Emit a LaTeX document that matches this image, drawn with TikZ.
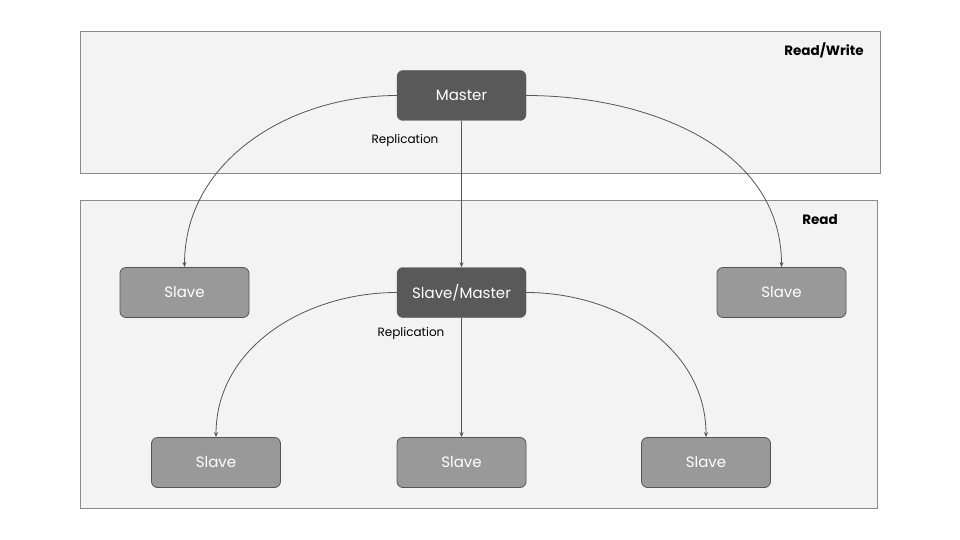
\documentclass[tikz,border=0pt]{standalone}
\usepackage{fontspec}
\setmainfont{Poppins}
\usetikzlibrary{arrows.meta}
\definecolor{panelfill}{HTML}{F3F3F3}
\definecolor{panelline}{HTML}{8A8A8A}
\definecolor{darkfill}{HTML}{595959}
\definecolor{lightfill}{HTML}{999999}
\definecolor{edgecol}{HTML}{555555}
\tikzset{
  panel/.style={draw=panelline, fill=panelfill, line width=0.8pt},
  darkbox/.style={draw=darkfill, fill=darkfill, rounded corners=6pt, minimum width=129pt, minimum height=50pt, text=white, font=\fontsize{15}{18}\selectfont, inner sep=0pt},
  lightbox/.style={draw=edgecol, fill=lightfill, rounded corners=6pt, minimum width=129pt, minimum height=50pt, text=white, font=\fontsize{15}{18}\selectfont, inner sep=0pt, line width=0.8pt},
  conn/.style={draw=edgecol, line width=0.8pt, -{Stealth[length=5pt,width=4pt]}},
  lbl/.style={font=\fontsize{12}{14}\selectfont, text=black, inner sep=0pt},
  title/.style={font=\bfseries\fontsize{13.5}{16}\selectfont, text=black, inner sep=0pt}
}
\begin{document}
\begin{tikzpicture}[x=1pt,y=-1pt]
\useasboundingbox (0,0) rectangle (960,540);
\fill[white] (0,0) rectangle (960,540);
\draw[panel] (80,31) rectangle (880,173);
\draw[panel] (80,200) rectangle (877,508);
\node[title] (rw) at (824,50) {Read/Write};
\node[title] (rd) at (820,220) {Read};
\node[darkbox] (m) at (461.5,95.5) {\raisebox{-1pt}{Master}};
\node[darkbox] (sm) at (461.5,292.5) {\raisebox{-1pt}{Slave/Master}};
\node[lightbox] (s1) at (184.5,292.5) {\raisebox{-1pt}{Slave}};
\node[lightbox] (s2) at (781.5,292.5) {\raisebox{-1pt}{Slave}};
\node[lightbox] (b1) at (216,462.5) {\raisebox{-1pt}{Slave}};
\node[lightbox] (b2) at (461.5,462.5) {\raisebox{-1pt}{Slave}};
\node[lightbox] (b3) at (706,462.5) {\raisebox{-1pt}{Slave}};
\node[lbl] (r1) at (405,140) {Replication};
\node[lbl] (r2) at (411,333) {Replication};
\draw[conn] (m.west) to[out=180,in=90] (s1.north);
\draw[conn] (m.east) to[out=0,in=90] (s2.north);
\draw[conn] (m.south) -- (sm.north);
\draw[conn] (sm.west) to[out=180,in=90] (b1.north);
\draw[conn] (sm.east) to[out=0,in=90] (b3.north);
\draw[conn] (sm.south) -- (b2.north);
\end{tikzpicture}
\end{document}
